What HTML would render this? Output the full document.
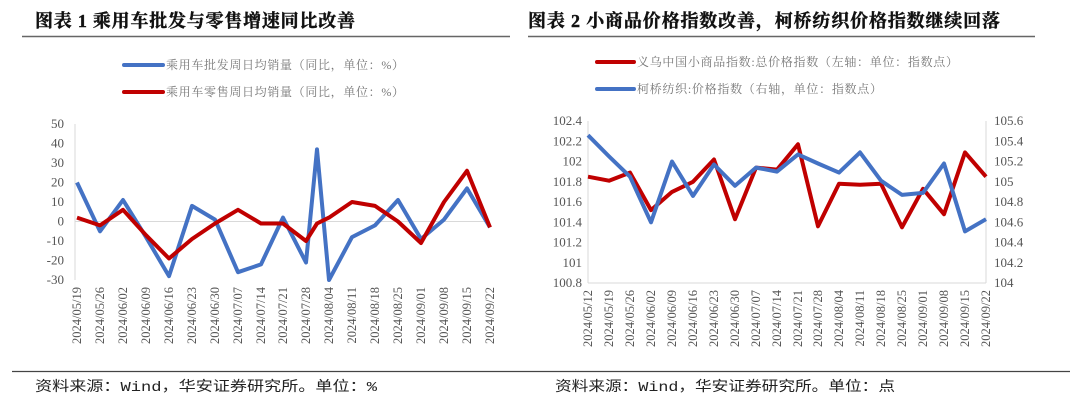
<!DOCTYPE html>
<html><head><meta charset="utf-8"><style>
html,body{margin:0;padding:0;background:#fff;}
svg{display:block;}
</style></head><body>
<svg width="1080" height="403" xmlns="http://www.w3.org/2000/svg">
<rect width="1080" height="403" fill="#fff"/>
<g font-family="'Liberation Serif','Noto Serif CJK SC',serif" font-weight="bold" font-size="18" fill="#111" stroke="#111" stroke-width="0.4">
<text x="35" y="27" textLength="320" lengthAdjust="spacing">图表 1 乘用车批发与零售增速同比改善</text>
<text x="528" y="27" textLength="472" lengthAdjust="spacing">图表 2 小商品价格指数改善，柯桥纺织价格指数继续回落</text>
</g>
<line x1="22" y1="36.5" x2="510" y2="36.5" stroke="#666" stroke-width="1.5"/>
<line x1="528" y1="36.5" x2="1035" y2="36.5" stroke="#666" stroke-width="1.5"/>
<g font-family="'Liberation Serif','Noto Serif CJK SC',serif" font-size="12" fill="#777">
<line x1="124" y1="65" x2="163" y2="65" stroke="#4472C4" stroke-width="4" stroke-linecap="round"/>
<text x="166" y="69" textLength="238" lengthAdjust="spacing">乘用车批发周日均销量（同比，单位：%）</text>
<line x1="124" y1="92" x2="163" y2="92" stroke="#C00000" stroke-width="4" stroke-linecap="round"/>
<text x="166" y="96" textLength="238" lengthAdjust="spacing">乘用车零售周日均销量（同比，单位：%）</text>
<line x1="597" y1="62" x2="634" y2="62" stroke="#C00000" stroke-width="4" stroke-linecap="round"/>
<text x="637" y="66" textLength="321" lengthAdjust="spacing">义乌中国小商品指数:总价格指数（左轴：单位：指数点）</text>
<line x1="597" y1="89" x2="634" y2="89" stroke="#4472C4" stroke-width="4" stroke-linecap="round"/>
<text x="637" y="93" textLength="245" lengthAdjust="spacing">柯桥纺织:价格指数（右轴，单位：指数点）</text>
</g>
<!-- left chart -->
<line x1="75" y1="124" x2="75" y2="280" stroke="#d9d9d9"/>
<line x1="75" y1="221.5" x2="490" y2="221.5" stroke="#d9d9d9"/>
<g font-family="'Liberation Serif',serif" font-size="13" fill="#555" text-anchor="end">
<text x="64" y="128">50</text><text x="64" y="147.5">40</text><text x="64" y="167">30</text><text x="64" y="186.5">20</text><text x="64" y="206">10</text><text x="64" y="225.5">0</text><text x="64" y="245">-10</text><text x="64" y="264.5">-20</text><text x="64" y="284">-30</text>
</g>
<polyline fill="none" stroke="#4472C4" stroke-width="4" stroke-linejoin="round" points="77,182.5 100,231.3 123,200 146,237.1 169,276.1 192,205.9 215,219.6 238,272.2 261,264.4 283,217.6 306,262.5 317,149.4 329,280 352,237.1 375,225.4 398,200 421,239 444,219.6 467,188.4 490,227.4"/>
<polyline fill="none" stroke="#C00000" stroke-width="4" stroke-linejoin="round" points="77,217.6 100,225.4 123,209.8 146,235.2 169,258.5 192,239 215,223.5 238,209.8 261,223.5 283,223.5 306,241 317,223.5 329,217.6 352,202 375,205.9 398,221.5 421,243 444,202 467,170.8 490,227.4"/>
<g font-family="'Liberation Serif',serif" font-size="12.5" fill="#555" text-anchor="end">
<text transform="translate(81,287) rotate(-90)">2024/05/19</text>
<text transform="translate(104,287) rotate(-90)">2024/05/26</text>
<text transform="translate(127,287) rotate(-90)">2024/06/02</text>
<text transform="translate(150,287) rotate(-90)">2024/06/09</text>
<text transform="translate(173,287) rotate(-90)">2024/06/16</text>
<text transform="translate(196,287) rotate(-90)">2024/06/23</text>
<text transform="translate(219,287) rotate(-90)">2024/06/30</text>
<text transform="translate(242,287) rotate(-90)">2024/07/07</text>
<text transform="translate(265,287) rotate(-90)">2024/07/14</text>
<text transform="translate(287,287) rotate(-90)">2024/07/21</text>
<text transform="translate(310,287) rotate(-90)">2024/07/28</text>
<text transform="translate(333,287) rotate(-90)">2024/08/04</text>
<text transform="translate(356,287) rotate(-90)">2024/08/11</text>
<text transform="translate(379,287) rotate(-90)">2024/08/18</text>
<text transform="translate(402,287) rotate(-90)">2024/08/25</text>
<text transform="translate(425,287) rotate(-90)">2024/09/01</text>
<text transform="translate(448,287) rotate(-90)">2024/09/08</text>
<text transform="translate(471,287) rotate(-90)">2024/09/15</text>
<text transform="translate(494,287) rotate(-90)">2024/09/22</text>
</g>
<!-- right chart -->
<line x1="588" y1="121" x2="588" y2="283" stroke="#d9d9d9"/>
<line x1="986" y1="121" x2="986" y2="283" stroke="#d9d9d9"/>
<line x1="588" y1="283" x2="986" y2="283" stroke="#d9d9d9"/>
<g font-family="'Liberation Serif',serif" font-size="13" fill="#555" text-anchor="end">
<text x="582" y="125">102.4</text><text x="582" y="145.3">102.2</text><text x="582" y="165.5">102</text><text x="582" y="185.8">101.8</text><text x="582" y="206">101.6</text><text x="582" y="226.3">101.4</text><text x="582" y="246.5">101.2</text><text x="582" y="266.8">101</text><text x="582" y="287">100.8</text>
</g>
<g font-family="'Liberation Serif',serif" font-size="13" fill="#555">
<text x="994" y="125">105.6</text><text x="994" y="145.3">105.4</text><text x="994" y="165.5">105.2</text><text x="994" y="185.8">105</text><text x="994" y="206">104.8</text><text x="994" y="226.3">104.6</text><text x="994" y="246.5">104.4</text><text x="994" y="266.8">104.2</text><text x="994" y="287">104</text>
</g>
<polyline fill="none" stroke="#C00000" stroke-width="4" stroke-linejoin="round" points="588,176.7 609,180.7 630,172.6 651,210.1 672,191.9 693,181.8 714,159.5 735,219.2 756,167.6 777,169.6 798,144.3 818,226.3 839,183.8 860,184.8 881,183.8 902,227.3 923,188.8 944,214.2 965,152.4 986,176.7"/>
<polyline fill="none" stroke="#4472C4" stroke-width="4" stroke-linejoin="round" points="588,135.2 609,156.4 630,176.7 651,222.3 672,161.5 693,195.9 714,164.5 735,185.8 756,167.6 777,171.6 798,154.4 818,163.5 839,172.6 860,152.4 881,180.7 902,194.9 923,192.9 944,163.5 965,231.4 986,219.2"/>
<g font-family="'Liberation Serif',serif" font-size="12.5" fill="#555" text-anchor="end">
<text transform="translate(592,290) rotate(-90)">2024/05/12</text>
<text transform="translate(613,290) rotate(-90)">2024/05/19</text>
<text transform="translate(634,290) rotate(-90)">2024/05/26</text>
<text transform="translate(655,290) rotate(-90)">2024/06/02</text>
<text transform="translate(676,290) rotate(-90)">2024/06/09</text>
<text transform="translate(697,290) rotate(-90)">2024/06/16</text>
<text transform="translate(718,290) rotate(-90)">2024/06/23</text>
<text transform="translate(739,290) rotate(-90)">2024/06/30</text>
<text transform="translate(760,290) rotate(-90)">2024/07/07</text>
<text transform="translate(781,290) rotate(-90)">2024/07/14</text>
<text transform="translate(802,290) rotate(-90)">2024/07/21</text>
<text transform="translate(822,290) rotate(-90)">2024/07/28</text>
<text transform="translate(843,290) rotate(-90)">2024/08/04</text>
<text transform="translate(864,290) rotate(-90)">2024/08/11</text>
<text transform="translate(885,290) rotate(-90)">2024/08/18</text>
<text transform="translate(906,290) rotate(-90)">2024/08/25</text>
<text transform="translate(927,290) rotate(-90)">2024/09/01</text>
<text transform="translate(948,290) rotate(-90)">2024/09/08</text>
<text transform="translate(969,290) rotate(-90)">2024/09/15</text>
<text transform="translate(990,290) rotate(-90)">2024/09/22</text>
</g>
<line x1="12" y1="371.5" x2="1070" y2="371.5" stroke="#444" stroke-width="1.2"/>
<g font-family="'Liberation Mono','Noto Sans CJK SC',monospace" font-size="14" fill="#222">
<text x="35" y="391" textLength="342" lengthAdjust="spacingAndGlyphs">资料来源：Wind，华安证券研究所。单位：%</text>
<text x="555" y="391" textLength="340" lengthAdjust="spacingAndGlyphs">资料来源：Wind，华安证券研究所。单位：点</text>
</g>
</svg>
</body></html>
